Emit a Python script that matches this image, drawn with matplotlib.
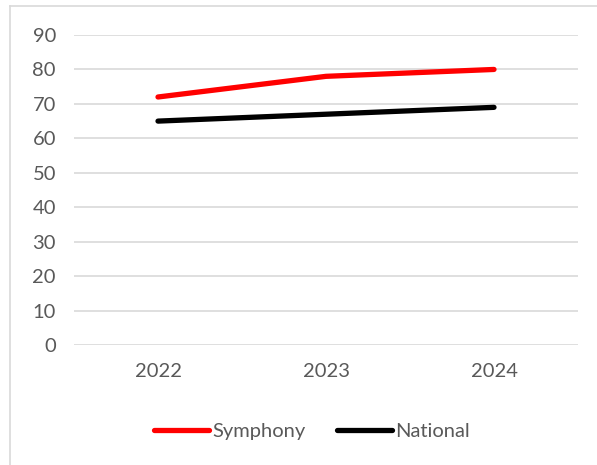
import matplotlib
matplotlib.use("Agg")
import matplotlib.pyplot as plt
from matplotlib.lines import Line2D

categories = ["2022", "2023", "2024"]
symphony = [72, 78, 80]
national = [65, 67, 69]
yticks = [0, 10, 20, 30, 40, 50, 60, 70, 80, 90]

plt.rcParams['font.family'] = ['Lato', 'DejaVu Sans']
W, H = 597, 465
fig = plt.figure(figsize=(W/100, H/100), dpi=100)
ax = fig.add_axes([74/W, 1-345/H, (578-74)/W, (345-35)/H])

x = list(range(len(categories)))
ax.plot(x, symphony, color="#ff0000", lw=3.8, solid_capstyle="round", label="Symphony")
ax.plot(x, national, color="#000000", lw=3.8, solid_capstyle="round", label="National")

ax.set_xlim(-0.5, len(categories)-0.5)
ax.set_ylim(0, 90)
ax.set_yticks(yticks)
ax.set_yticklabels([str(v) for v in yticks])
ax.set_xticks(x)
ax.set_xticklabels(categories)
ax.grid(axis="y", color="#d9d9d9", lw=1.2)
ax.set_axisbelow(True)
for s in ax.spines.values():
    s.set_visible(False)
ax.tick_params(length=0, labelsize=14.5, colors="#595959")
ax.tick_params(axis="y", pad=13)
ax.tick_params(axis="x", pad=13)

# chart border
fig.add_artist(Line2D([10/W, 10/W], [0, 1-6/H], color="#d9d9d9", lw=1.2, transform=fig.transFigure))
fig.add_artist(Line2D([10/W, 1], [1-6/H, 1-6/H], color="#d9d9d9", lw=1.2, transform=fig.transFigure))

leg = fig.legend(loc="center", bbox_to_anchor=(312/W, 1-431/H), ncol=2, frameon=False,
                 fontsize=14.5, handlelength=2.7, handletextpad=0.15, columnspacing=1.6)
for t in leg.get_texts():
    t.set_color("#595959")

fig.savefig("out.png", dpi=100)
